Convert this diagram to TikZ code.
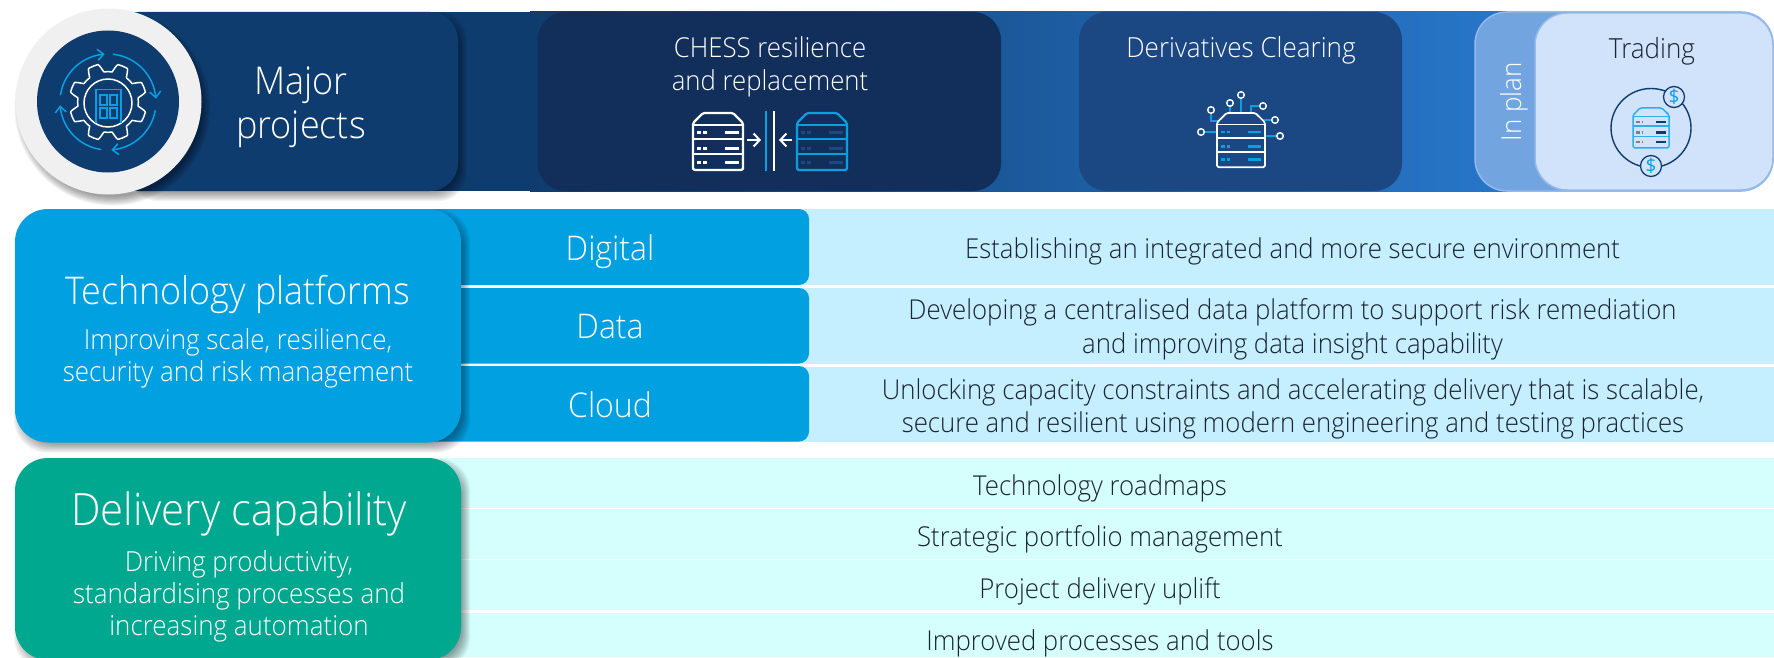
\documentclass[tikz,border=0pt]{standalone}
\usepackage{fontspec}
\setmainfont{Open Sans Light}[FakeStretch=0.94]
\newfontfamily\regfont{Open Sans}
\usetikzlibrary{arrows.meta}
\definecolor{navyA}{HTML}{0F3C6E}
\definecolor{navyB}{HTML}{112F5A}
\definecolor{navyC}{HTML}{1B4882}
\definecolor{bandmid}{HTML}{19569C}
\definecolor{bandend}{HTML}{2A7CD2}
\definecolor{planfill}{HTML}{72A5E0}
\definecolor{planedge}{HTML}{94B9EA}
\definecolor{tradefill}{HTML}{D1E3FA}
\definecolor{skyblue}{HTML}{00A0E1}
\definecolor{paleblue}{HTML}{C5EEFF}
\definecolor{tealbox}{HTML}{00A88F}
\definecolor{paleteal}{HTML}{D5FFFC}
\definecolor{ringgrey}{HTML}{F0F0F1}
\definecolor{icblue}{HTML}{0A9FE0}
\definecolor{icdim}{HTML}{1B4A80}
\definecolor{inktext}{HTML}{1A2433}
\tikzset{
  wtext/.style={text=white,align=center,inner sep=0pt},
  dtext/.style={text=inktext,align=center,inner sep=0pt},
  big/.style={font=\fontsize{38.3}{44}\selectfont},
  head/.style={font=\fontsize{27.7}{33}\selectfont},
  body/.style={font=\fontsize{27.4}{33.5}\selectfont},
  sub/.style={font=\fontsize{27.6}{32}\selectfont},
  rowlabel/.style={font=\fontsize{34}{36}\selectfont},
  card/.style={rounded corners=28pt},
  coin/.style={draw=navyA,line width=1.3pt,fill=tradefill},
  ringarc/.style={icblue,line width=1.5pt,-{Straight Barb[length=6pt,width=11pt,line width=1.5pt]}},
  chessarrow/.style={white,line width=2pt,-{Straight Barb[length=6pt,width=13pt,line width=2pt]}},
}
\newcommand{\softbox}[5]{%
  \foreach \i in {0,...,8}{%
    \pgfmathsetmacro{\e}{5-\i*1.1}
    \fill[black,opacity=0.05,rounded corners=#5pt]
      ({#1+4-\e},{#2+5-\e}) rectangle ({#3+4+\e},{#4+5+\e});
  }}
\newcommand{\softdisc}[3]{%
  \foreach \i in {0,...,8}{%
    \pgfmathsetmacro{\e}{#3+5-\i*1.1}
    \fill[black,opacity=0.05] ({#1+4},{#2+6}) circle (\e pt);
  }}
% x y xscale yscale line-colour dash-colour bar-colour line-width bar-width
\newcommand{\srvicon}[9]{%
  \begin{scope}[shift={(#1,#2)},xscale=#3,yscale=#4]
    \draw[#5,line width=#8pt,line join=round,rounded corners=1.5pt]
      (10,0) -- (40,0) -- (50,10) -- (50,57) -- (0,57) -- (0,10) -- cycle;
    \draw[#5,line width=#8pt] (0,12) -- (50,12) (0,26) -- (50,26) (0,41) -- (50,41);
    \foreach \yy in {20,35,49}{
      \draw[#6,line width=#9pt,dash pattern=on 4pt off 2pt] (4,\yy) -- (14,\yy);
      \draw[#7,line width=#9pt] (32,\yy) -- (46,\yy);
    }
  \end{scope}}
\begin{document}
\begin{tikzpicture}[x=1pt,y=-1pt]
\useasboundingbox (0,0) rectangle (1774,658);
% ---------- top band
\fill[navyA] (130,12) rectangle (531,191);
\shade[left color=navyA,middle color=bandmid,right color=bandend] (530,12) rectangle (1600,191);
% major projects
\softbox{130}{12}{458}{191}{28}
\fill[navyA,card] (110,12) rectangle (458,191);
% other project cards
\fill[navyB,card] (537.5,12) rectangle (1001,191);
\fill[navyC,card] (1079,12) rectangle (1402,191);
\fill[planfill,draw=planedge,line width=1.5pt,rounded corners=32pt] (1475,12) rectangle (1773,191);
\fill[tradefill,draw=planedge,line width=1.5pt,rounded corners=32pt] (1535,13) rectangle (1773,190);
% badge
\softdisc{108.5}{101.5}{93}
\fill[ringgrey] (108.5,101.5) circle (93pt);
\fill[navyA] (108,101.5) circle (71pt);
% gear
\draw[white,line width=1.5pt,line join=round] plot[domain=0:360,samples=290]
  ({108+(34.5+4.2*max(-1,min(1,2.2*cos(8*(\x-22.5)))))*cos(\x)},
   {102+(34.5+4.2*max(-1,min(1,2.2*cos(8*(\x-22.5)))))*sin(\x)}) -- cycle;
\draw[white,line width=1.5pt] (108,103) circle (24pt);
\draw[ringarc] plot[domain=188:266,samples=30] ({108+48*cos(\x)},{102+48*sin(\x)});
\draw[ringarc] plot[domain=276:356,samples=30] ({108+48*cos(\x)},{102+48*sin(\x)});
\draw[ringarc] plot[domain=10:86,samples=30] ({108+48*cos(\x)},{102+48*sin(\x)});
\draw[ringarc] plot[domain=98:176,samples=30] ({108+48*cos(\x)},{102+48*sin(\x)});
\draw[icblue,line width=1.2pt] (96,123.5) -- (96,89.5) -- (121,89.5) -- (121,123.5);
\foreach \wx in {100,110}{\foreach \wy in {95,108}{
  \draw[icblue,line width=1.2pt] (\wx,\wy) rectangle ++(7,10);}}
% major text
\node[wtext,big] (major) at (301,107.5) {Major\\projects};
% CHESS
\node[wtext,font=\fontsize{27.4}{33}\selectfont] (chess) at (770,67) {CHESS resilience\\and replacement};
\srvicon{693}{113}{1}{1}{white}{white}{white}{2.2}{3}
\srvicon{797}{113}{1}{1}{icblue}{icdim}{icdim}{2.2}{3}
\draw[chessarrow] (747,140) -- (761,140);
\draw[chessarrow] (792,140) -- (779,140);
\draw[icblue,line width=2pt] (766,111) -- (766,171);
\draw[black,line width=2.8pt] (774,111) -- (774,171);
\draw[white,line width=1.5pt] (774,111.5) -- (774,170.5);
% Derivatives
\node[wtext,head] (deriv) at (1241,50.5) {Derivatives Clearing};
\draw[icblue,line width=1.7pt] (1241,98) -- (1241,113)
  (1230,106) -- (1230,113)
  (1211,113) -- (1211,121) -- (1220,121)
  (1204,132) -- (1217,132)
  (1260,106) -- (1251,106) -- (1251,113)
  (1272,120) -- (1263,120)
  (1277,136) -- (1265,136);
\srvicon{1217}{113}{0.96}{0.95}{white}{icblue}{icblue}{1.7}{2.8}
\foreach \cx/\cy in {1241/95,1230/103,1211/110,1201/132,1263/106,1275/120,1280/136}{
  \draw[white,line width=1.4pt] (\cx,\cy) circle (3.3pt);}
% In plan / trading labels
\node[wtext,font=\fontsize{27.6}{30}\selectfont,rotate=90] (inplan) at (1514,102) {In plan};
\node[dtext,head] (trading) at (1652,51) {Trading};
\draw[navyA,line width=1.4pt] (1651,128) ellipse (40pt and 39.5pt);
\srvicon{1633}{108}{0.72}{0.70}{icblue!85!white}{gray}{navyA}{1.5}{2.4}
\node[coin,circle,minimum size=21pt,inner sep=0pt] (coinA) at (1674,97) {};
\node[coin,circle,minimum size=21pt,inner sep=0pt] (coinB) at (1651,166) {};
\node[text=icblue,inner sep=0pt,font=\regfont\fontsize{19}{19}\selectfont] (dollarA) at (coinA) {\$};
\node[text=icblue,inner sep=0pt,font=\regfont\fontsize{19}{19}\selectfont] (dollarB) at (coinB) {\$};
% ---------- technology platforms
\fill[paleblue] (760,209) rectangle (1774,285);
\fill[paleblue] (760,288) rectangle (1774,364);
\fill[paleblue] (760,366.5) rectangle (1774,442);
\fill[skyblue,rounded corners=10pt] (420,209) rectangle (809,285);
\fill[skyblue,rounded corners=10pt] (420,288) rectangle (809,363.5);
\fill[skyblue,rounded corners=10pt] (420,366) rectangle (809,441.5);
\softbox{15}{209}{461}{442.5}{33}
\fill[skyblue,rounded corners=33pt] (15,209) rectangle (461,442.5);
\node[wtext,font=\fontsize{38.2}{44}\selectfont] (techt) at (237.5,294.5) {Technology platforms};
\node[wtext,sub] (techs) at (238,358.5) {Improving scale, resilience,\\security and risk management};
\node[wtext,rowlabel] (digital) at (610,251.5) {Digital};
\node[wtext,rowlabel] (data) at (610,327) {Data};
\node[wtext,rowlabel] (cloud) at (610,405) {Cloud};
\node[dtext,body] (r1) at (1292.5,251.5) {Establishing an integrated and more secure environment};
\node[dtext,body] (r2) at (1292.5,329.5) {Developing a centralised data platform to support risk remediation\\and improving data insight capability};
\node[dtext,body] (r3) at (1293,409) {Unlocking capacity constraints and accelerating delivery that is scalable,\\secure and resilient using modern engineering and testing practices};
% ---------- delivery capability
\fill[paleteal] (440,458) rectangle (1774,507.5);
\fill[paleteal] (440,508.5) rectangle (1774,558.5);
\fill[paleteal] (440,559.5) rectangle (1774,610);
\fill[paleteal] (440,612.5) rectangle (1774,657);
\softbox{15}{458}{461}{660}{33}
\fill[tealbox,rounded corners=33pt] (15,458) rectangle (461,660);
\node[wtext,font=\fontsize{44.5}{48}\selectfont] (delt) at (239,513.5) {Delivery capability};
\node[wtext,sub] (dels) at (239,596) {Driving productivity,\\standardising processes and\\increasing automation};
\node[dtext,body] (d1) at (1100,488.5) {Technology roadmaps};
\node[dtext,body] (d2) at (1100,539.5) {Strategic portfolio management};
\node[dtext,body] (d3) at (1100,591.5) {Project delivery uplift};
\node[dtext,body] (d4) at (1100,643.5) {Improved processes and tools};
\end{tikzpicture}
\end{document}
